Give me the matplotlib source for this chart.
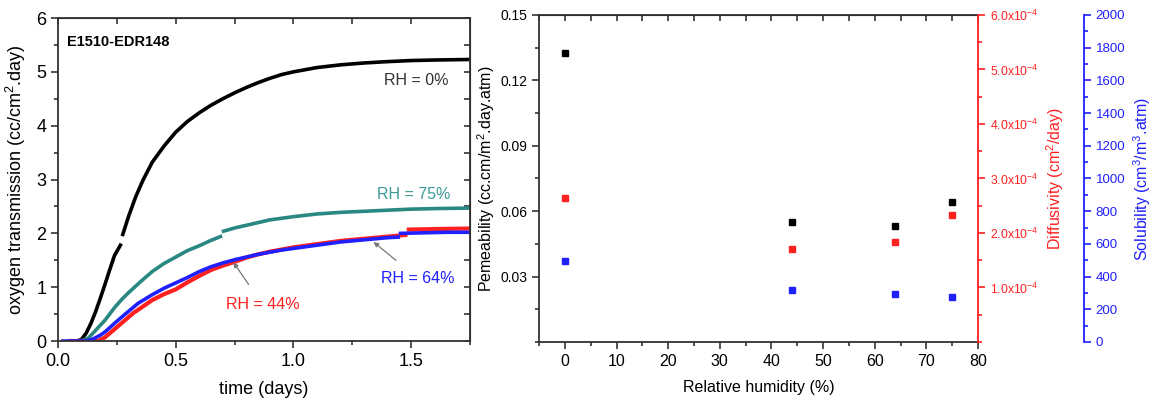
import numpy as np
import matplotlib.pyplot as plt
from matplotlib.ticker import MultipleLocator, FuncFormatter

plt.rcParams['font.family'] = ['Liberation Sans', 'DejaVu Sans']
plt.rcParams['mathtext.fontset'] = 'custom'
plt.rcParams['mathtext.rm'] = 'Liberation Sans'
plt.rcParams['mathtext.it'] = 'Liberation Sans'

nan = np.nan

# transmission curves (time in days, cc/cm^2.day); nan marks gaps in the record
t_rh0 = [0.08, 0.10, 0.12, 0.14, 0.16, 0.18, 0.20, 0.22, 0.24, 0.265, nan, 0.275, 0.30, 0.33,
         0.36, 0.40, 0.45, 0.50, 0.55, 0.60, 0.65, 0.70, 0.75, 0.80, 0.85, 0.90, 0.95, 1.00,
         1.10, 1.20, 1.30, 1.40, 1.50, 1.60, 1.75]
v_rh0 = [0.0, 0.03, 0.15, 0.33, 0.55, 0.80, 1.06, 1.33, 1.59, 1.78, nan, 1.98, 2.32, 2.68,
         2.98, 3.32, 3.62, 3.88, 4.08, 4.24, 4.38, 4.50, 4.61, 4.71, 4.80, 4.88, 4.95, 5.00,
         5.08, 5.13, 5.165, 5.19, 5.21, 5.22, 5.23]

t_rh75 = [0.09, 0.11, 0.13, 0.16, 0.20, 0.24, 0.27, 0.30, 0.35, 0.40, 0.45, 0.50, 0.55, 0.60,
          0.65, 0.69, nan, 0.703, 0.75, 0.80, 0.85, 0.90, 1.00, 1.10, 1.20, 1.30, 1.40, 1.50,
          1.60, 1.75]
v_rh75 = [0.0, 0.02, 0.06, 0.20, 0.39, 0.62, 0.77, 0.90, 1.10, 1.29, 1.44, 1.56, 1.68, 1.77,
          1.87, 1.94, nan, 2.04, 2.10, 2.15, 2.20, 2.25, 2.31, 2.36, 2.39, 2.41, 2.43, 2.45,
          2.46, 2.47]

t_rh64 = [0.02, 0.12, 0.15, 0.18, 0.20, 0.24, 0.28, 0.34, 0.40, 0.45, 0.50, 0.55, 0.60, 0.65,
          0.70, 0.75, 0.80, 0.85, 0.90, 0.95, 1.00, 1.10, 1.20, 1.30, 1.40, 1.445, nan, 1.455,
          1.55, 1.65, 1.75]
v_rh64 = [0.0, 0.0, 0.04, 0.11, 0.17, 0.33, 0.48, 0.70, 0.86, 0.98, 1.08, 1.18, 1.29, 1.38,
          1.45, 1.51, 1.56, 1.61, 1.65, 1.69, 1.72, 1.78, 1.84, 1.88, 1.92, 1.93, nan, 2.00,
          2.01, 2.02, 2.02]

t_rh44 = [0.05, 0.17, 0.20, 0.24, 0.28, 0.32, 0.36, 0.40, 0.45, 0.50, 0.55, 0.60, 0.65, 0.70,
          0.75, 0.80, 0.85, 0.90, 0.95, 1.00, 1.10, 1.20, 1.30, 1.40, 1.475, nan, 1.49, 1.60,
          1.75]
v_rh44 = [0.0, 0.0, 0.07, 0.22, 0.37, 0.52, 0.64, 0.76, 0.87, 0.96, 1.09, 1.21, 1.32, 1.40,
          1.47, 1.55, 1.61, 1.66, 1.70, 1.74, 1.80, 1.86, 1.90, 1.94, 1.97, nan, 2.07, 2.08,
          2.09]

# transport coefficients vs relative humidity
rh = [0, 44, 64, 75]
permeability = [0.1326, 0.0550, 0.0532, 0.0642]
diffusivity = [2.64e-4, 1.71e-4, 1.83e-4, 2.33e-4]
solubility = [495, 318, 294, 275]

teal = '#2a8882'
red = '#ff2020'
blue = '#2020ff'
spine_col = '#333333'

fig = plt.figure(figsize=(11.56, 4.03), dpi=100)

# ---- left: oxygen transmission curves ----
ax1 = fig.add_axes([0.0502, 0.1538, 0.3564, 0.8015])
ax1.plot(t_rh0, v_rh0, color='black', lw=2.6)
ax1.plot(t_rh75, v_rh75, color=teal, lw=2.6)
ax1.plot(t_rh44, v_rh44, color=red, lw=3.0)
ax1.plot(t_rh64, v_rh64, color=blue, lw=2.6)
ax1.set_xlim(0, 1.75)
ax1.set_ylim(0, 6)
ax1.xaxis.set_major_locator(MultipleLocator(0.5))
ax1.xaxis.set_minor_locator(MultipleLocator(0.25))
ax1.yaxis.set_major_locator(MultipleLocator(1))
ax1.yaxis.set_minor_locator(MultipleLocator(0.5))
ax1.xaxis.set_major_formatter(FuncFormatter(lambda v, p: f'{v:.1f}'))
ax1.tick_params(which='both', direction='out', labelsize=13, color=spine_col, width=1.2)
ax1.tick_params(which='major', length=5)
ax1.tick_params(which='minor', length=3)
for s in ax1.spines.values():
    s.set_color(spine_col)
    s.set_linewidth(1.3)
ax1.set_xlabel('time (days)', fontsize=13, labelpad=8)
ax1.set_ylabel('oxygen transmission (cc/cm$^2$.day)', fontsize=13, labelpad=6)

top1 = ax1.secondary_xaxis('top')
top1.xaxis.set_major_locator(MultipleLocator(0.25))
top1.tick_params(direction='in', length=4, labeltop=False, color=spine_col, width=1.2)
right1 = ax1.secondary_yaxis('right')
right1.yaxis.set_major_locator(MultipleLocator(0.5))
right1.tick_params(direction='in', length=4, labelright=False, color=spine_col, width=1.2)

ax1.text(0.04, 5.55, 'E1510-EDR148', fontsize=10.5, fontweight='bold', va='center')
ax1.text(1.52, 4.83, 'RH = 0%', fontsize=11.5, color='#333333', ha='center', va='center')
ax1.text(1.51, 2.73, 'RH = 75%', fontsize=11.5, color='#3a9a96', ha='center', va='center')
ax1.annotate('RH = 44%', xy=(0.745, 1.46), xytext=(0.87, 0.67), fontsize=11.5, color=red,
             ha='center', va='center',
             arrowprops=dict(arrowstyle='-|>', color='#777777', lw=0.9, mutation_scale=7,
                             shrinkA=9, shrinkB=0))
ax1.annotate('RH = 64%', xy=(1.34, 1.84), xytext=(1.53, 1.16), fontsize=11.5, color=blue,
             ha='center', va='center',
             arrowprops=dict(arrowstyle='-|>', color='#777777', lw=0.9, mutation_scale=7,
                             shrinkA=9, shrinkB=0))

# ---- right: permeability / diffusivity / solubility ----
ax2 = fig.add_axes([0.4663, 0.1514, 0.3797, 0.8114])
ax2.plot(rh, permeability, 's', color='black', ms=4.8)
ax2.set_xlim(-5, 80)
ax2.set_ylim(0, 0.15)
ax2.xaxis.set_major_locator(MultipleLocator(10))
ax2.xaxis.set_minor_locator(MultipleLocator(5))
ax2.set_yticks([0.03, 0.06, 0.09, 0.12, 0.15])
ax2.yaxis.set_minor_locator(MultipleLocator(0.015))
ax2.tick_params(which='both', direction='out', color=spine_col, width=1.2)
ax2.tick_params(axis='x', labelsize=11.5)
ax2.tick_params(axis='y', labelsize=10)
ax2.tick_params(which='major', length=5)
ax2.tick_params(which='minor', length=3)
for s in ax2.spines.values():
    s.set_color(spine_col)
    s.set_linewidth(1.3)
ax2.spines['right'].set_visible(False)
ax2.set_xlabel('Relative humidity (%)', fontsize=11.5, labelpad=8)
ax2.set_ylabel('Pemeability (cc.cm/m$^2$.day.atm)', fontsize=11.5, labelpad=2)

top2 = ax2.secondary_xaxis('top')
top2.xaxis.set_major_locator(MultipleLocator(5))
top2.tick_params(direction='in', length=4, labeltop=False, color=spine_col, width=1.2)

ax3 = ax2.twinx()
ax3.plot(rh, diffusivity, 's', color=red, ms=4.8)
ax3.set_ylim(0, 6e-4)
ax3.set_yticks([1e-4, 2e-4, 3e-4, 4e-4, 5e-4, 6e-4])
ax3.yaxis.set_minor_locator(MultipleLocator(0.5e-4))
ax3.yaxis.set_major_formatter(FuncFormatter(lambda v, p: f'{v * 1e4:.1f}x10$^{{-4}}$'))
ax3.tick_params(which='both', direction='out', colors=red, width=1.2, labelsize=8.8)
ax3.tick_params(which='major', length=5)
ax3.tick_params(which='minor', length=3)
for name, s in ax3.spines.items():
    s.set_visible(name == 'right')
ax3.spines['right'].set_color(red)
ax3.spines['right'].set_linewidth(1.3)
ax3.set_ylabel('Diffusivity (cm$^2$/day)', fontsize=11.5, color=red, labelpad=4)

ax4 = ax2.twinx()
ax4.plot(rh, solubility, 's', color=blue, ms=4.8)
ax4.set_ylim(0, 2000)
ax4.yaxis.set_major_locator(MultipleLocator(200))
ax4.yaxis.set_minor_locator(MultipleLocator(100))
ax4.spines['right'].set_position(('axes', 1.2415))
for name, s in ax4.spines.items():
    s.set_visible(name == 'right')
ax4.spines['right'].set_color(blue)
ax4.spines['right'].set_linewidth(1.3)
ax4.tick_params(which='both', direction='out', colors=blue, width=1.2, labelsize=9.5)
ax4.tick_params(which='major', length=5)
ax4.tick_params(which='minor', length=3)
ax4.set_ylabel('Solubility (cm$^3$/m$^3$.atm)', fontsize=11.5, color=blue, labelpad=4)

fig.savefig('out.png', dpi=100)
